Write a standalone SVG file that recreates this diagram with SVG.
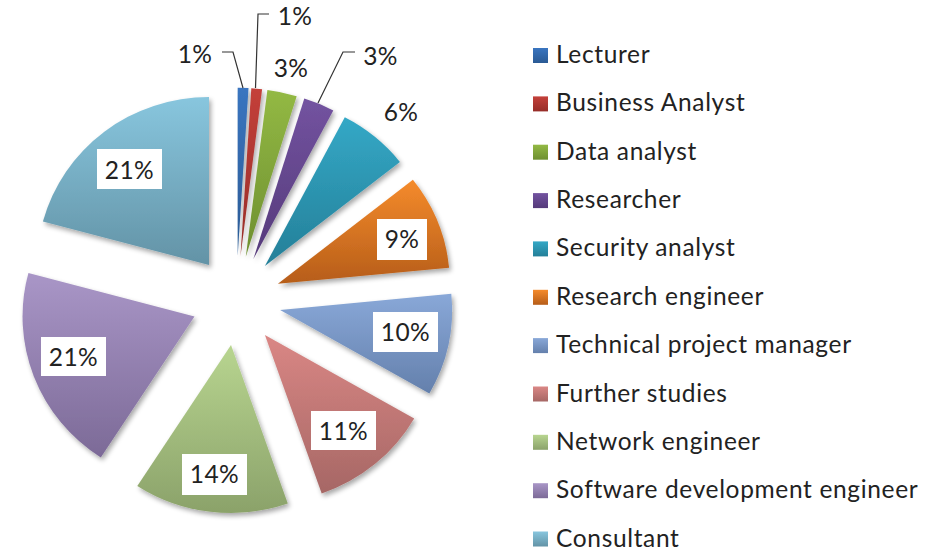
<svg xmlns="http://www.w3.org/2000/svg" width="934" height="551" viewBox="0 0 934 551">
<style>
text{font-family:Lato,"Liberation Sans",sans-serif;fill:#222;}
.lbl{font-size:24.5px;letter-spacing:0.4px;text-anchor:middle;}
.leg{font-size:24.5px;letter-spacing:0.65px;}
.box{fill:#fff;}
.lead{fill:none;stroke:#333;stroke-width:1.2;}
.sl{filter:url(#sh);}
</style>
<defs>
<filter id="sh" x="-20%" y="-20%" width="140%" height="140%">
<feGaussianBlur in="SourceAlpha" stdDeviation="2.5"/>
<feOffset dx="2" dy="3" result="b"/>
<feComponentTransfer><feFuncA type="linear" slope="0.35"/></feComponentTransfer>
<feMerge><feMergeNode/><feMergeNode in="SourceGraphic"/></feMerge>
</filter>
<linearGradient id="g1" x1="0" y1="0" x2="0" y2="1"><stop offset="0" stop-color="#3A75C0"/><stop offset="1" stop-color="#2A5A94"/></linearGradient>
<linearGradient id="g2" x1="0" y1="0" x2="0" y2="1"><stop offset="0" stop-color="#C4403A"/><stop offset="1" stop-color="#962D28"/></linearGradient>
<linearGradient id="g3" x1="0" y1="0" x2="0" y2="1"><stop offset="0" stop-color="#93B944"/><stop offset="1" stop-color="#6E8F30"/></linearGradient>
<linearGradient id="g4" x1="0" y1="0" x2="0" y2="1"><stop offset="0" stop-color="#7353A0"/><stop offset="1" stop-color="#553A7A"/></linearGradient>
<linearGradient id="g5" x1="0" y1="0" x2="0" y2="1"><stop offset="0" stop-color="#34A8C6"/><stop offset="1" stop-color="#247F98"/></linearGradient>
<linearGradient id="g6" x1="0" y1="0" x2="0" y2="1"><stop offset="0" stop-color="#F58B2C"/><stop offset="1" stop-color="#B65D19"/></linearGradient>
<linearGradient id="g7" x1="0" y1="0" x2="0" y2="1"><stop offset="0" stop-color="#89A8D8"/><stop offset="1" stop-color="#6480AC"/></linearGradient>
<linearGradient id="g8" x1="0" y1="0" x2="0" y2="1"><stop offset="0" stop-color="#DA8785"/><stop offset="1" stop-color="#A66765"/></linearGradient>
<linearGradient id="g9" x1="0" y1="0" x2="0" y2="1"><stop offset="0" stop-color="#B8D590"/><stop offset="1" stop-color="#8BA26A"/></linearGradient>
<linearGradient id="g10" x1="0" y1="0" x2="0" y2="1"><stop offset="0" stop-color="#A996C7"/><stop offset="1" stop-color="#7C6A97"/></linearGradient>
<linearGradient id="g11" x1="0" y1="0" x2="0" y2="1"><stop offset="0" stop-color="#88C6DE"/><stop offset="1" stop-color="#6393A6"/></linearGradient>
</defs>
<rect width="934" height="551" fill="#fff"/>

<g id="slice-lecturer"><path class="sl" fill="url(#g1)" d="M237.7,255.7 L237.7,87.7 A172,168 0 0,1 248.5,88.0 Z"/><text class="lbl" x="195" y="63">1%</text></g>
<g id="slice-business-analyst"><path class="sl" fill="url(#g2)" d="M240.5,255.9 L251.3,88.2 A172,168 0 0,1 262.1,89.2 Z"/><text class="lbl" x="295" y="25">1%</text></g>
<g id="slice-data-analyst"><path class="sl" fill="url(#g3)" d="M245.8,256.7 L267.4,90.0 A172,168 0 0,1 296.7,96.2 Z"/><text class="lbl" x="291" y="77">3%</text></g>
<g id="slice-researcher"><path class="sl" fill="url(#g4)" d="M253.4,259.1 L304.3,98.6 A172,168 0 0,1 333.3,110.4 Z"/><text class="lbl" x="380.5" y="65">3%</text></g>
<g id="slice-security-analyst"><path class="sl" fill="url(#g5)" d="M264.9,266.0 L344.8,117.3 A172,168 0 0,1 399.9,161.9 Z"/><text class="lbl" x="401" y="121">6%</text></g>
<g id="slice-research-engineer"><path class="sl" fill="url(#g6)" d="M277.9,283.8 L412.9,179.7 A172,168 0 0,1 449.1,267.7 Z"/><rect class="box" x="377" y="219" width="50" height="41"/><text class="lbl" x="402" y="248">9%</text></g>
<g id="slice-technical-project-manager"><path class="sl" fill="url(#g7)" d="M280.1,309.9 L451.3,293.8 A172,168 0 0,1 429.4,393.4 Z"/><rect class="box" x="373" y="312" width="65" height="40"/><text class="lbl" x="405.5" y="341">10%</text></g>
<g id="slice-further-studies"><path class="sl" fill="url(#g8)" d="M264.9,334.9 L414.2,418.4 A172,168 0 0,1 321.7,493.5 Z"/><rect class="box" x="311" y="411" width="65" height="39"/><text class="lbl" x="343.5" y="440">11%</text></g>
<g id="slice-network-engineer"><path class="sl" fill="url(#g9)" d="M231.0,345.0 L287.8,503.6 A172,168 0 0,1 137.3,485.9 Z"/><rect class="box" x="182" y="454" width="65" height="41"/><text class="lbl" x="214.5" y="483">14%</text></g>
<g id="slice-software-development-engineer"><path class="sl" fill="url(#g10)" d="M194.5,316.6 L100.8,457.5 A172,168 0 0,1 28.4,273.1 Z"/><rect class="box" x="41" y="337" width="65" height="39"/><text class="lbl" x="73.5" y="366">21%</text></g>
<g id="slice-consultant"><path class="sl" fill="url(#g11)" d="M209.0,265.0 L42.9,221.5 A172,168 0 0,1 209.0,97.0 Z"/><rect class="box" x="97" y="149" width="65" height="40"/><text class="lbl" x="129.5" y="179">21%</text></g>

<g id="connectors">
<polyline class="lead" points="222,52 233,52 243,88"/>
<polyline class="lead" points="269,14 258,14 255.5,88"/>
<polyline class="lead" points="355,52 343,52 318,103"/>
</g>

<g id="legend">
<rect x="533" y="48" width="15" height="15" fill="url(#g1)"/><text class="leg" x="556" y="63">Lecturer</text>
<rect x="533" y="96.4" width="15" height="15" fill="url(#g2)"/><text class="leg" x="556" y="111.4">Business Analyst</text>
<rect x="533" y="144.7" width="15" height="15" fill="url(#g3)"/><text class="leg" x="556" y="159.7">Data analyst</text>
<rect x="533" y="193.1" width="15" height="15" fill="url(#g4)"/><text class="leg" x="556" y="208.1">Researcher</text>
<rect x="533" y="241.4" width="15" height="15" fill="url(#g5)"/><text class="leg" x="556" y="256.4">Security analyst</text>
<rect x="533" y="289.8" width="15" height="15" fill="url(#g6)"/><text class="leg" x="556" y="304.8">Research engineer</text>
<rect x="533" y="338.1" width="15" height="15" fill="url(#g7)"/><text class="leg" x="556" y="353.1">Technical project manager</text>
<rect x="533" y="386.5" width="15" height="15" fill="url(#g8)"/><text class="leg" x="556" y="401.5">Further studies</text>
<rect x="533" y="434.8" width="15" height="15" fill="url(#g9)"/><text class="leg" x="556" y="449.8">Network engineer</text>
<rect x="533" y="483.2" width="15" height="15" fill="url(#g10)"/><text class="leg" x="556" y="498.2">Software development engineer</text>
<rect x="533" y="531.5" width="15" height="15" fill="url(#g11)"/><text class="leg" x="556" y="546.5">Consultant</text>
</g>
</svg>
